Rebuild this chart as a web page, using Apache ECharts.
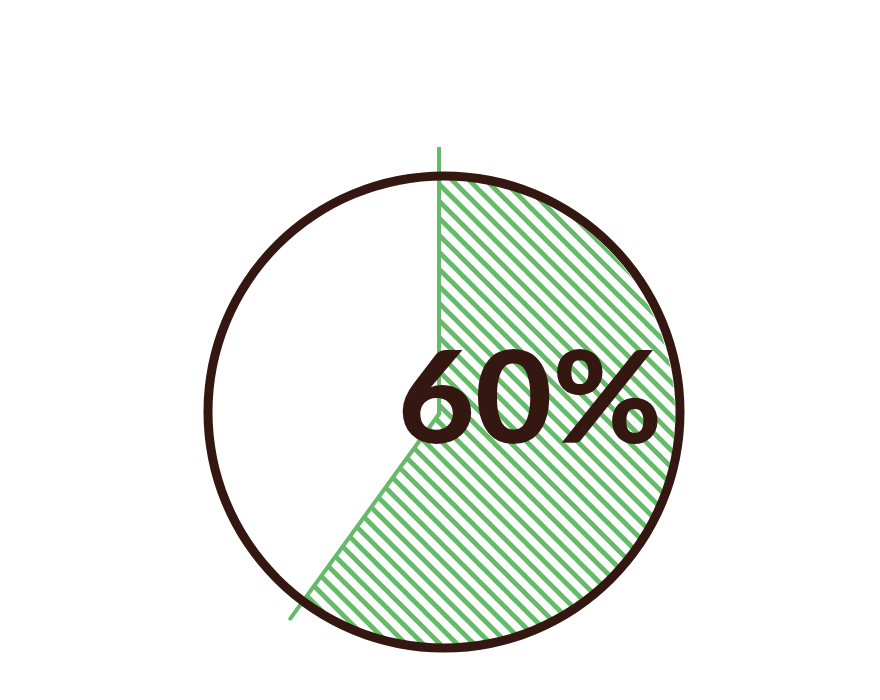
<!DOCTYPE html>
<html>
<head>
<meta charset="utf-8">
<script src="https://cdn.jsdelivr.net/npm/echarts@6/dist/echarts.min.js"></script>
<style>
html,body{margin:0;padding:0;background:#fff;}
#chart{width:880px;height:700px;}
</style>
</head>
<body>
<div id="chart"></div>
<script>
// Data
const shareValue = 60;               // percent shown
const sliceValues = [60, 40];        // filled share, remaining share
const edgeRadius = [267, 0, 253];    // polyline radii of the sector edges
const edgeAngle = [0, 0, 60];        // polyline angles (percent scale)

const green = '#66bb6a';
const brown = '#351711';

// hatch pattern
const tile = document.createElement('canvas');
const s = 17;
tile.width = s; tile.height = s;
const ctx = tile.getContext('2d');
ctx.strokeStyle = green;
ctx.lineWidth = 4.8;
for (let k = -1; k <= 1; k++) {
  ctx.beginPath();
  ctx.moveTo(-2, k * s - 2);
  ctx.lineTo(s + 2, s + k * s + 2);
  ctx.stroke();
}

const chart = echarts.init(document.getElementById('chart'), null, {renderer: 'canvas'});
chart.setOption({
  animation: false,
  backgroundColor: '#ffffff',
  polar: {center: [439, 414], radius: 267},
  angleAxis: {type: 'value', min: 0, max: 100, startAngle: 90, clockwise: true, show: false},
  radiusAxis: {type: 'value', min: 0, max: 267, show: false},
  graphic: [{
    type: 'text',
    x: 530, y: 402, z: 100,
    scaleX: 1.04,
    style: {
      text: shareValue + '%',
      font: '900 128px Lato',
      fill: brown,
      align: 'center',
      verticalAlign: 'middle'
    }
  }],
  series: [
    {
      type: 'pie',
      silent: true,
      z: 1,
      center: [439, 414],
      radius: [0, 236],
      startAngle: 90,
      clockwise: true,
      label: {show: false},
      labelLine: {show: false},
      emphasis: {disabled: true},
      data: [
        {value: sliceValues[0], itemStyle: {color: {image: tile, repeat: 'repeat'}}},
        {value: sliceValues[1], itemStyle: {color: 'rgba(0,0,0,0)'}}
      ]
    },
    {
      type: 'line',
      coordinateSystem: 'polar',
      silent: true,
      z: 2,
      symbol: 'none',
      lineStyle: {color: green, width: 4, cap: 'round', join: 'miter'},
      data: edgeRadius.map((r, i) => [r, edgeAngle[i]])
    },
    {
      type: 'pie',
      silent: true,
      z: 3,
      center: [444, 412],
      radius: [231.5, 240.5],
      label: {show: false},
      labelLine: {show: false},
      emphasis: {disabled: true},
      data: [{value: 100, itemStyle: {color: brown}}]
    }
  ]
});
</script>
</body>
</html>
